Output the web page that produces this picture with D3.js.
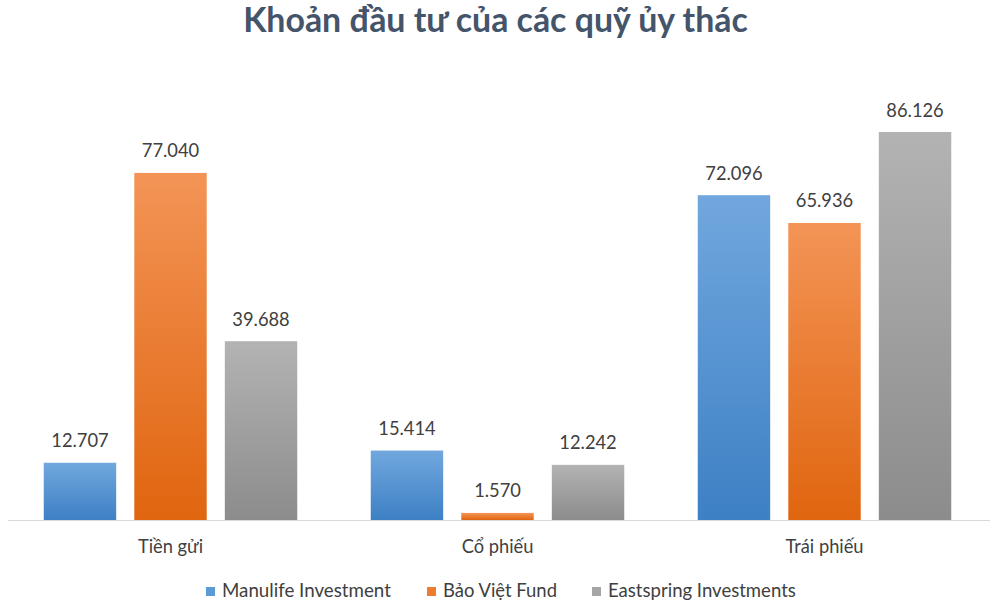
<!DOCTYPE html>
<html><head><meta charset="utf-8">
<script src="https://cdn.jsdelivr.net/npm/d3@7/dist/d3.min.js"></script>
<style>html,body{margin:0;padding:0;background:#fff;}svg{display:block;}</style>
</head><body>
<svg id="chart" width="1000" height="609"></svg>
<script>
const title = "Khoản đầu tư của các quỹ ủy thác";
const categories = ["Tiền gửi", "Cổ phiếu", "Trái phiếu"];
const seriesNames = ["Manulife Investment", "Bảo Việt Fund", "Eastspring Investments"];
const manulife = [12.707, 15.414, 72.096];
const baoviet = [77.040, 1.570, 65.936];
const eastspring = [39.688, 12.242, 86.126];
const seriesValues = [manulife, baoviet, eastspring];
const yDomain = [0, 100];

const colorsTop = ["#71A7DE", "#F39456", "#B3B3B3"];
const colorsBot = ["#3D80C4", "#E0650F", "#8C8C8C"];
const legendColors = ["#5B9BD5", "#ED7D31", "#A5A5A5"];
const textColor = "#404040";
const fontFam = "Lato, 'Open Sans', sans-serif";

const svg = d3.select("#chart");
const defs = svg.append("defs");
seriesNames.forEach((s,i)=>{
  const g = defs.append("linearGradient").attr("id","g"+i).attr("x1",0).attr("y1",0).attr("x2",0).attr("y2",1);
  g.append("stop").attr("offset","0%").attr("stop-color",colorsTop[i]);
  g.append("stop").attr("offset","100%").attr("stop-color",colorsBot[i]);
});

const x0 = d3.scaleBand().domain(categories).range([7, 988]).paddingInner(0).paddingOuter(0);
const x1 = d3.scaleBand().domain(seriesNames).range([0, 253.5]).paddingInner(0.2).paddingOuter(0);
const y = d3.scaleLinear().domain(yDomain).range([520, 69.5]);

function fit(sel, target){
  const base = parseFloat(sel.attr("font-size"));
  const w = sel.node().getComputedTextLength();
  sel.attr("font-size", (base*target/w).toFixed(2));
}

// axis line
svg.append("line").attr("x1",8).attr("x2",990).attr("y1",y(0)+0.5).attr("y2",y(0)+0.5)
  .attr("stroke","#D9D9D9").attr("stroke-width",1);

const groupOff = (x0.bandwidth()-253.5)/2;
const groups = svg.append("g").selectAll("g").data(categories).join("g")
  .attr("transform", c => `translate(${x0(c)+groupOff},0)`);

groups.each(function(c, ci){
  const g = d3.select(this);
  seriesNames.forEach((s, si)=>{
    const v = seriesValues[si][ci];
    g.append("rect").attr("x", x1(s)).attr("width", x1.bandwidth())
      .attr("y", y(v)).attr("height", y(0)-y(v)).attr("fill", `url(#g${si})`);
    g.append("text").attr("x", x1(s)+x1.bandwidth()/2).attr("y", y(v)-15.5)
      .attr("text-anchor","middle").attr("font-family",fontFam).attr("font-size",18.3)
      .attr("fill",textColor).text(d3.format(".3f")(v));
  });
});

// category axis labels via d3 axis
const xAxis = svg.append("g").attr("transform","translate(0,520)")
  .call(d3.axisBottom(x0).tickSize(0).tickPadding(33));
xAxis.select(".domain").remove();
xAxis.selectAll("text").attr("font-family",fontFam).attr("font-size",18.3).attr("fill",textColor)
  .attr("dy",0).attr("y",33);

// title
const t = svg.append("text").attr("x",495.5).attr("y",32).attr("text-anchor","middle")
  .attr("font-family",fontFam).attr("font-weight","bold").attr("font-size",30)
  .attr("fill","#44546A").text(title);
fit(t, 505);

// legend
const legendX = [206, 427, 592];
const legendW = [169, 114, 188];
const lg = svg.append("g");
seriesNames.forEach((s,i)=>{
  lg.append("rect").attr("x",legendX[i]).attr("y",587).attr("width",9).attr("height",9).attr("fill",legendColors[i]);
  const tx = lg.append("text").attr("x",legendX[i]+16).attr("y",597).attr("font-family",fontFam)
    .attr("font-size",17).attr("fill",textColor).text(s);
  fit(tx, legendW[i]);
});
</script>
</body></html>
